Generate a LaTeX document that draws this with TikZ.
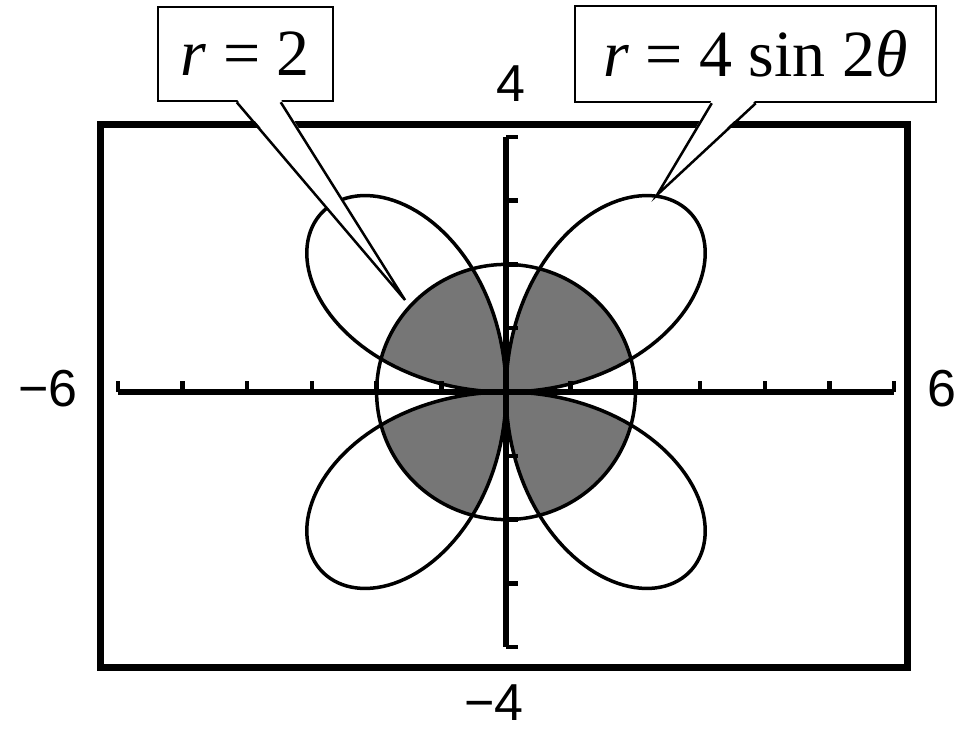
\documentclass[tikz,border=0pt]{standalone}
\usepackage{fontspec}
\setmainfont{Liberation Serif}
\newfontfamily\axisfont{Liberation Sans}
\definecolor{shadegray}{RGB}{118,118,118}
\begin{document}
\begin{tikzpicture}[x=1pt,y=-1pt,
  frame/.style={line width=7pt},
  axisline/.style={line width=5.5pt},
  tickmark/.style={line width=4.5pt},
  curveline/.style={line width=3.5pt, line join=round},
  callout/.style={draw, line width=2.5pt, fill=white, inner sep=0pt},
  ptr/.style={line width=2.5pt, line join=miter},
  axlabel/.style={font=\axisfont\fontsize{52}{56}\selectfont, inner sep=0pt},
  boxtext/.style={font=\fontsize{66}{72}\selectfont}]
\useasboundingbox (0,0) rectangle (966,730);
% shaded intersection
\begin{scope}[shift={(506,392)}, x=64.7pt, y=63.8pt]
  \fill[shadegray] plot[domain=0:360, samples=721]
    ({min(2,abs(4*sin(2*\x)))*cos(\x)}, {min(2,abs(4*sin(2*\x)))*sin(\x)}) -- cycle;
\end{scope}
% frame
\draw[frame] (100,125) rectangle (907,667);
% axes
\draw[axisline] (118,392) -- (894,392);
\draw[axisline] (506,137) -- (506,647);
\foreach \i in {-6,...,6} \draw[tickmark] ({506+64.7*\i},392) -- ++(0,-11);
\foreach \j in {-4,...,4} \draw[tickmark] (506,{392-63.8*\j}) -- ++(12,0);
% curves
\begin{scope}[shift={(506,392)}, x=64.7pt, y=63.8pt]
  \draw[curveline] plot[domain=0:360, samples=361]
    ({4*sin(2*\x)*cos(\x)}, {4*sin(2*\x)*sin(\x)}) -- cycle;
  \draw[curveline] plot[domain=0:360, samples=181]
    ({2*cos(\x)}, {2*sin(\x)}) -- cycle;
\end{scope}
% axis labels
\node[axlabel] (ytop) at (511,84) {4};
\node[axlabel] (ybot) at (494,703) {−4};
\node[axlabel] (xleft) at (48,389) {−6};
\node[axlabel] (xright) at (942,389) {6};
% callout r = 2
\node[callout, minimum width=175pt, minimum height=94pt, boxtext] (c1) at (245.5,54) {\textit{r} = 2};
\coordinate (t1) at (405,300);
\coordinate (b1l) at ([xshift=80pt]c1.south west);
\coordinate (b1r) at ([xshift=124pt]c1.south west);
\fill[white] ([yshift=3pt]b1l) -- (t1) -- ([yshift=3pt]b1r) -- cycle;
\draw[ptr] (b1l) -- (t1) -- (b1r);
% callout r = 4 sin 2theta
\node[callout, minimum width=361pt, minimum height=96pt, boxtext] (c2) at (755.5,54) {\textit{r} = 4 sin 2\textit{θ}};
\coordinate (t2) at (657,195);
\coordinate (b2l) at ([xshift=138pt]c2.south west);
\coordinate (b2r) at ([xshift=182pt]c2.south west);
\fill[white] ([yshift=3pt]b2l) -- (t2) -- ([yshift=3pt]b2r) -- cycle;
\draw[ptr] (b2l) -- (t2) -- (b2r);
\end{tikzpicture}
\end{document}
